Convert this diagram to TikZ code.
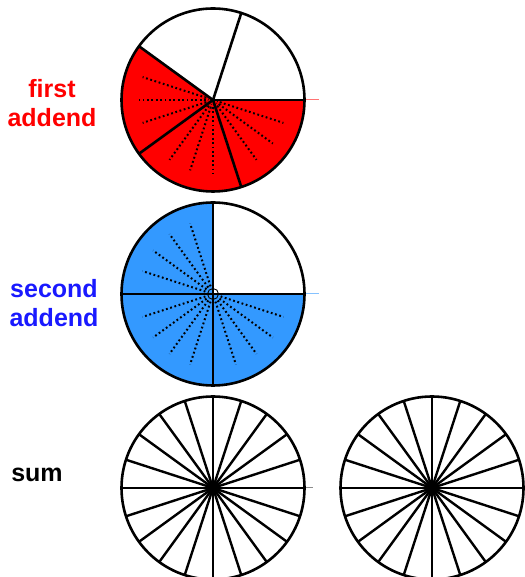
\documentclass[tikz,border=0pt]{standalone}
\usepackage{fontspec}
\setmainfont{Liberation Sans}
\definecolor{addblue}{RGB}{51,153,255}
\definecolor{labelblue}{RGB}{25,25,255}

\begin{document}
\begin{tikzpicture}[x=1pt, y=1pt,
    rim/.style={line width=2.6pt},
    spoke/.style={line width=2.4pt},
    dots/.style={line width=2pt, dash pattern=on 1.8pt off 2.6pt},
    lbl/.style={anchor=base, font=\fontsize{25}{29}\selectfont\bfseries}]
    \useasboundingbox (0,0) rectangle (524,577);

    % Labels
    \node [lbl, red] (firstA) at (52,479) {first};
    \node [lbl, red] (firstB) at (52,450) {addend};
    \node [lbl, labelblue] (secondA) at (54,279) {second};
    \node [lbl, labelblue] (secondB) at (54,250) {addend};
    \node [lbl] (sumlbl) at (37,95) {sum};

    % First addend: fifths
    \begin{scope}[shift={(213,477)}]
        \fill [red] (0,0) -- (144:91.5) arc [start angle=144, end angle=360, radius=91.5] -- cycle;
        \foreach \a in {162,180,198,234,252,270,306,324,342}
            \draw [dots] (\a:7) -- (\a:74);
        \draw [densely dotted, line width=0.8pt] (144:5) arc [start angle=144, end angle=360, radius=5];
        \draw [densely dotted, line width=0.8pt] (144:9) arc [start angle=144, end angle=360, radius=9];
        \foreach \a in {0,72,...,288}
            \draw [rim] (0,0) -- (\a:91.5);
        \draw [rim] (0,0) circle (91.5);
        \draw [red!55, line width=1pt] (93,0) -- (106,0);
    \end{scope}

    % Second addend: quarters
    \begin{scope}[shift={(213,283)}]
        \fill [addblue] (0,0) -- (90:91.5) arc [start angle=90, end angle=360, radius=91.5] -- cycle;
        \foreach \a in {108,126,144,162,198,216,234,252,288,306,324,342}
            \draw [dots] (\a:8) -- (\a:74);
        \draw [line width=0.9pt] (0,0) circle (5.5);
        \draw [densely dotted, line width=0.8pt] (90:9) arc [start angle=90, end angle=360, radius=9];
        \foreach \a in {0,90,180,270}
            \draw [rim] (0,0) -- (\a:91.5);
        \draw [rim] (0,0) circle (91.5);
        \draw [addblue!60, line width=1pt] (93,0) -- (106,0);
    \end{scope}

    % Sum: twentieths
    \foreach \cx in {213,432} {
        \begin{scope}[shift={(\cx,89)}]
            \foreach \a in {0,18,...,342}
                \draw [spoke] (0,0) -- (\a:91.5);
            \fill (0,0) circle (5);
            \draw [rim] (0,0) circle (91.5);
        \end{scope}
    }
    \draw [black!45, line width=1pt] (306,89) -- (313,89);
\end{tikzpicture}
\end{document}
